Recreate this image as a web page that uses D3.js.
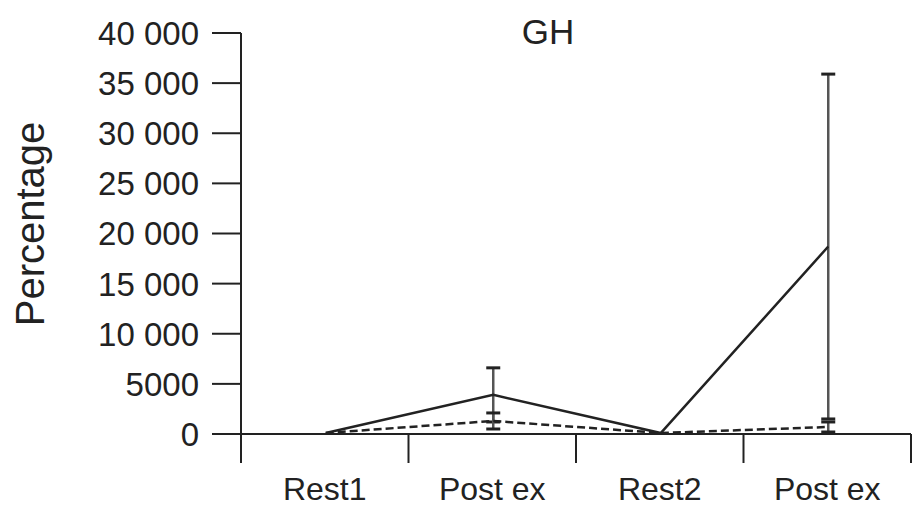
<!DOCTYPE html>
<html>
<head>
<meta charset="utf-8">
<script src="https://cdn.jsdelivr.net/npm/d3@7/dist/d3.min.js"></script>
<style>
  html, body { margin: 0; padding: 0; background: #fff; }
  svg text { font-family: "Liberation Sans", Arial, Helvetica, sans-serif; fill: #222; }
</style>
</head>
<body>
<svg id="chart" width="923" height="507"></svg>
<script>
// Time points along the protocol
const categories = ["Rest1", "Post ex", "Rest2", "Post ex "];
const categoryLabels = ["Rest1", "Post ex", "Rest2", "Post ex"];

// Solid series: mean and SD (percentage of rest)
const solidMean = [100, 3900, 100, 18700];
const solidSD   = [0, 2700, 0, 17200];

// Dashed series: mean and SD
const dashedMean = [100, 1300, 100, 700];
const dashedSD   = [0, 800, 0, 500];

// Y axis ticks and labels
const yTicks = [0, 5000, 10000, 15000, 20000, 25000, 30000, 35000, 40000];
const yTickLabels = ["0", "5000", "10 000", "15 000", "20 000", "25 000", "30 000", "35 000", "40 000"];

const svg = d3.select("#chart");
const ink = "#222";

const x = d3.scaleBand().domain(categories).range([241, 911]).padding(0);
const y = d3.scaleLinear().domain([0, 40000]).range([434, 33]);

// Y axis: vertical line extending down to meet the first category tick
const gy = svg.append("g");
gy.append("line")
  .attr("x1", 241).attr("x2", 241)
  .attr("y1", y(40000)).attr("y2", 463)
  .attr("stroke", ink).attr("stroke-width", 2);
gy.selectAll("line.tick").data(yTicks).join("line")
  .attr("class", "tick")
  .attr("x1", 212).attr("x2", 241)
  .attr("y1", d => y(d)).attr("y2", d => y(d))
  .attr("stroke", ink).attr("stroke-width", 2);
gy.selectAll("text").data(yTicks).join("text")
  .attr("x", 199)
  .attr("y", d => y(d))
  .attr("dy", "0.36em")
  .attr("text-anchor", "end")
  .attr("font-size", 33)
  .text((d, i) => yTickLabels[i]);

// X axis: baseline with ticks on category boundaries
const gx = svg.append("g");
gx.append("line")
  .attr("x1", 241).attr("x2", 911)
  .attr("y1", y(0)).attr("y2", y(0))
  .attr("stroke", ink).attr("stroke-width", 2);
const boundaries = categories.map(c => x(c)).concat([x(categories[categories.length - 1]) + x.bandwidth()]);
gx.selectAll("line.tick").data(boundaries.slice(1)).join("line")
  .attr("class", "tick")
  .attr("x1", d => d).attr("x2", d => d)
  .attr("y1", y(0)).attr("y2", 463)
  .attr("stroke", ink).attr("stroke-width", 2);
gx.selectAll("text").data(categories).join("text")
  .attr("x", d => x(d) + x.bandwidth() / 2)
  .attr("y", 500)
  .attr("text-anchor", "middle")
  .attr("font-size", 32)
  .text((d, i) => categoryLabels[i]);

const cx = d => x(d) + x.bandwidth() / 2 + 1;

// Error bars (drawn beneath the lines)
function errorBars(means, sds, color) {
  const g = svg.append("g");
  const data = categories.map((c, i) => ({ c, m: means[i], s: sds[i] })).filter(d => d.s > 0);
  g.selectAll("line.v").data(data).join("line")
    .attr("x1", d => cx(d.c)).attr("x2", d => cx(d.c))
    .attr("y1", d => y(d.m + d.s)).attr("y2", d => y(d.m - d.s))
    .attr("stroke", color).attr("stroke-width", 2.5);
  ["top", "bottom"].forEach(side => {
    g.selectAll("line." + side).data(data).join("line")
      .attr("class", side)
      .attr("x1", d => cx(d.c) - 7).attr("x2", d => cx(d.c) + 7)
      .attr("y1", d => y(side === "top" ? d.m + d.s : d.m - d.s))
      .attr("y2", d => y(side === "top" ? d.m + d.s : d.m - d.s))
      .attr("stroke", ink).attr("stroke-width", 3);
  });
}
errorBars(solidMean, solidSD, "#555");
errorBars(dashedMean, dashedSD, "#555");

// Series lines
const line = d3.line().x((d, i) => cx(categories[i])).y(d => y(d));
svg.append("path")
  .datum(dashedMean)
  .attr("d", line)
  .attr("fill", "none")
  .attr("stroke", ink)
  .attr("stroke-width", 2.5)
  .attr("stroke-dasharray", "8,4");
svg.append("path")
  .datum(solidMean)
  .attr("d", line)
  .attr("fill", "none")
  .attr("stroke", ink)
  .attr("stroke-width", 2.5);

// Title
svg.append("text")
  .attr("x", 548).attr("y", 44)
  .attr("text-anchor", "middle")
  .attr("font-size", 35)
  .text("GH");

// Y axis title
svg.append("text")
  .attr("transform", "translate(44,224) rotate(-90)")
  .attr("text-anchor", "middle")
  .attr("font-size", 40)
  .text("Percentage");
</script>
</body>
</html>
